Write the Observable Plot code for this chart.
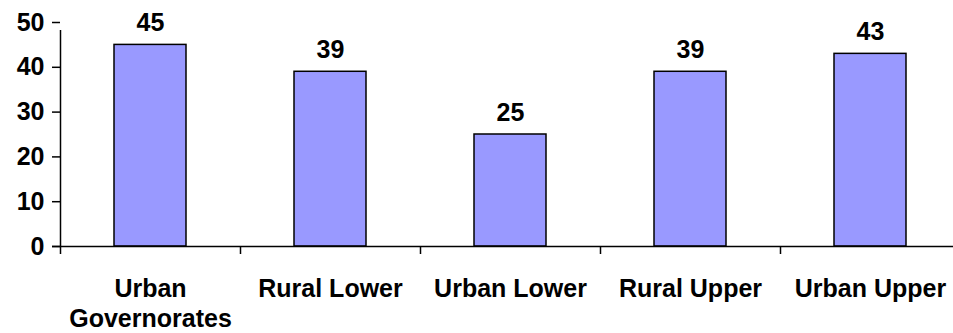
<!DOCTYPE html>
<html>
<head>
<meta charset="utf-8">
<script src="https://cdn.jsdelivr.net/npm/d3@7"></script>
<script src="https://cdn.jsdelivr.net/npm/@observablehq/plot@0.6"></script>
<style>
  html, body { margin: 0; padding: 0; background: #fff; }
</style>
</head>
<body>
<div id="chart"></div>
<script>
const categories = ["Urban Governorates", "Rural Lower", "Urban Lower", "Rural Upper", "Urban Upper"];
const values = [45, 39, 25, 39, 43];
const yTicks = [0, 10, 20, 30, 40, 50];

const data = categories.map((c, i) => ({category: c, value: values[i]}));
const fmt = d => d === "Urban Governorates" ? "Urban\nGovernorates" : d;

const chart = Plot.plot({
  width: 953,
  height: 333,
  marginLeft: 60,
  marginRight: 0,
  marginTop: 22,
  marginBottom: 87,
  style: {
    fontFamily: "'Liberation Sans', Arial, sans-serif",
    fontWeight: "bold",
    fontSize: "25px",
    color: "#000",
    background: "#fff",
    overflow: "visible"
  },
  x: {domain: categories, range: [60, 960], padding: 0},
  y: {domain: [0, 50]},
  marks: [
    Plot.barY(data, {x: "category", y: "value", fill: "#9999ff", stroke: "#000", strokeWidth: 1.5, insetLeft: 54, insetRight: 54}),
    Plot.text(data, {x: "category", y: "value", text: d => String(d.value), lineAnchor: "bottom", dy: -14, fill: "#000"}),
    Plot.ruleY([0], {stroke: "#000", strokeWidth: 1.5, insetLeft: -8}),
    Plot.ruleX([categories[0]], {x: d => d, y1: 0, y2: 50, dx: -90, insetBottom: -8, stroke: "#000", strokeWidth: 1.5}),
    Plot.axisY({ticks: yTicks, tickSize: 8, tickPadding: 8, strokeWidth: 1.5, label: null, tickFormat: d => String(d)}),
    Plot.axisX({tickSize: 8, dx: -90, text: null, strokeWidth: 1.5, label: null}),
    Plot.axisX({tickSize: 0, tickPadding: 29, tickFormat: fmt, lineHeight: 1.2, label: null})
  ]
});
document.getElementById("chart").appendChild(chart);
</script>
</body>
</html>
